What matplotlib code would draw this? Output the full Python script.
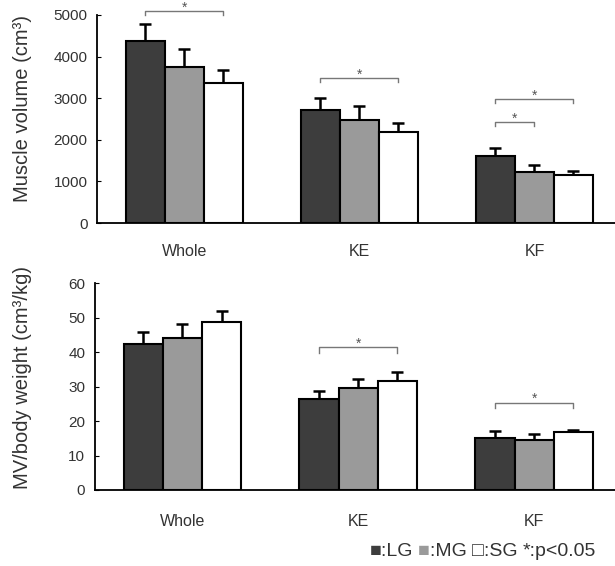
import numpy as np
import matplotlib.pyplot as plt
from matplotlib.offsetbox import TextArea, HPacker, AnchoredOffsetbox

groups = ['Whole', 'KE', 'KF']
series = ['LG', 'MG', 'SG']

# muscle volume (cm3), mean and SD
vol_mean = {'LG': [4380, 2715, 1610], 'MG': [3745, 2475, 1235], 'SG': [3365, 2195, 1145]}
vol_sd = {'LG': [400, 285, 195], 'MG': [445, 335, 170], 'SG': [315, 215, 95]}

# MV / body weight (cm3/kg)
rel_mean = {'LG': [42.4, 26.4, 15.2], 'MG': [44.2, 29.5, 14.4], 'SG': [48.8, 31.6, 16.8]}
rel_sd = {'LG': [3.6, 2.3, 2.0], 'MG': [3.9, 2.6, 1.8], 'SG': [3.2, 2.7, 0.6]}

# significance brackets: (group index, series a, series b, height)
vol_sig = [(0, 0, 2, 5100), (1, 0, 2, 3490), (2, 0, 2, 2980), (2, 0, 1, 2430)]
rel_sig = [(1, 0, 2, 41.4), (2, 0, 2, 25.3)]

colors = {'LG': '#3d3d3d', 'MG': '#9a9a9a', 'SG': '#ffffff'}
width = 0.223
x = np.arange(len(groups))

plt.rcParams['font.family'] = ['Liberation Sans', 'DejaVu Sans']

fig = plt.figure(figsize=(6.15, 5.66), dpi=100)
ax1 = fig.add_axes([0.158, 0.606, 0.842, 0.3675])
ax2 = fig.add_axes([0.1545, 0.1343, 0.8455, 0.3652])


def draw(ax, means, sds, sig, ymax, step, tick_dy, ylabel, xpad, lab_xy):
  for i, s in enumerate(series):
    pos = x + (i - 1) * width
    ax.bar(pos, means[s], width, color=colors[s], edgecolor='black', linewidth=1.5, zorder=2)
    ax.errorbar(pos, means[s], yerr=[np.zeros(3), sds[s]], fmt='none', ecolor='black',
                elinewidth=1.8, capsize=4, capthick=1.8, zorder=1)
  for g, a, b, h in sig:
    xa = x[g] + (a - 1) * width
    xb = x[g] + (b - 1) * width
    ax.plot([xa, xa, xb, xb], [h - tick_dy, h, h, h - tick_dy], color='#777777',
            linewidth=1, clip_on=False)
    ax.text((xa + xb) / 2, h + tick_dy * 0.7, '*', ha='center', va='center',
            fontsize=10, color='#555555', clip_on=False)
  ax.set_ylim(0, ymax)
  ax.set_xlim(-0.497, 2.46)
  ax.set_yticks(np.arange(0, ymax + 1, step))
  ax.set_xticks(x)
  ax.set_xticklabels(groups, fontsize=11.5, color='#333333')
  ax.tick_params(axis='x', length=0, pad=xpad)
  ax.tick_params(axis='y', direction='in', length=3, labelsize=11, pad=7, labelcolor='#333333')
  ax.spines['top'].set_visible(False)
  ax.spines['right'].set_visible(False)
  ax.spines['left'].set_linewidth(1.3)
  ax.spines['bottom'].set_linewidth(1.3)
  ax.set_ylabel(ylabel, fontsize=14.5, color='#333333')
  ax.yaxis.set_label_coords(*lab_xy)


draw(ax1, vol_mean, vol_sd, vol_sig, 5000, 1000, 100, 'Muscle volume (cm³)', 15, (-0.125, 0.55))
draw(ax2, rel_mean, rel_sd, rel_sig, 60, 10, 1.5, 'MV/body weight (cm³/kg)', 17, (-0.122, 0.545))

# legend row at the bottom
parts = [('■', colors['LG']), (':LG ', '#333333'),
         ('■', colors['MG']), (':MG ', '#333333'),
         ('□', '#333333'), (':SG ', '#333333'),
         ('*:p<0.05', '#333333')]
boxes = [TextArea(t, textprops=dict(color=c, fontsize=14)) for t, c in parts]
row = HPacker(children=boxes, align='baseline', pad=0, sep=0)
anch = AnchoredOffsetbox(loc='center', child=row, frameon=False,
                         bbox_to_anchor=(0.785, 0.025), bbox_transform=fig.transFigure)
fig.add_artist(anch)

fig.savefig('out.png', dpi=100)
